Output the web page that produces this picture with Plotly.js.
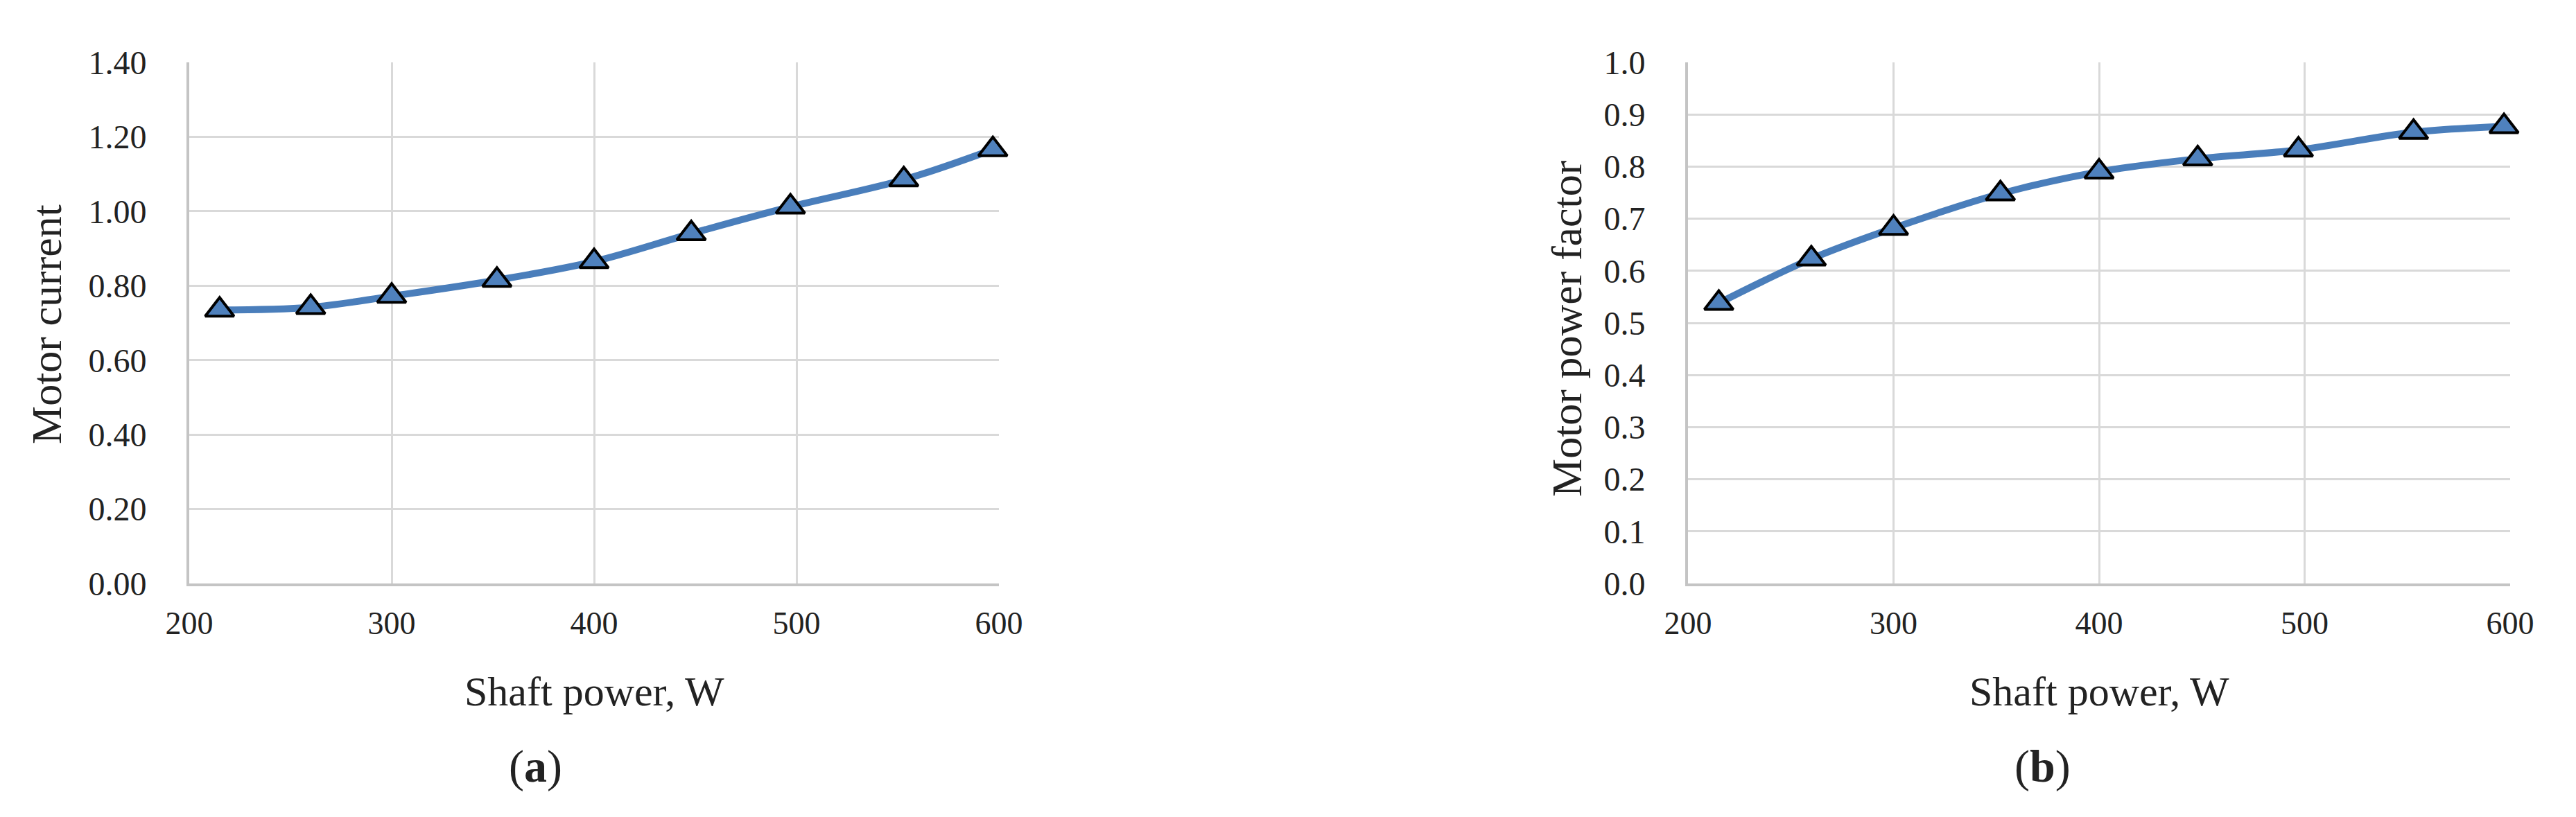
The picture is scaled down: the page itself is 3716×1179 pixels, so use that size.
<!DOCTYPE html>
<html>
<head>
<meta charset="utf-8">
<script src="https://cdn.plot.ly/plotly-3.0.1.min.js"></script>
<style>
  html, body { margin: 0; padding: 0; background: #fff; }
  #chart { width: 3716px; height: 1179px; }
</style>
</head>
<body>
<div id="chart"></div>
<script>
// Shaft power (W), shared by both panels
const shaftPower = [215, 260, 300, 352, 400, 448, 497, 553, 597];

// (a) motor current
const motorCurrent = [0.735, 0.742, 0.772, 0.815, 0.865, 0.940, 1.012, 1.085, 1.166];

// (b) motor power factor
const powerFactor = [0.538, 0.623, 0.682, 0.748, 0.790, 0.815, 0.832, 0.866, 0.877];

const xTicks = [200, 300, 400, 500, 600];
const currentTicks = [0, 0.2, 0.4, 0.6, 0.8, 1.0, 1.2, 1.4];
const factorTicks = [0, 0.1, 0.2, 0.3, 0.4, 0.5, 0.6, 0.7, 0.8, 0.9, 1.0];

const blue = '#4a7ebb';
const serif = 'Liberation Serif, Times New Roman, serif';

function series(y, xa, ya) {
  return {
    x: shaftPower,
    y: y,
    xaxis: xa,
    yaxis: ya,
    type: 'scatter',
    mode: 'lines+markers',
    line: { color: blue, width: 10, shape: 'spline', smoothing: 1 },
    marker: {
      symbol: 'triangle-up',
      size: 36,
      color: '#4f81bd',
      line: { color: '#000', width: 4 }
    },
    cliponaxis: false,
    hoverinfo: 'x+y'
  };
}

const xBase = {
  range: [200, 600],
  tickvals: xTicks,
  ticks: '',
  ticklabelstandoff: 14,
  showgrid: true,
  gridcolor: '#d9d9d9',
  gridwidth: 3,
  showline: true,
  linecolor: '#c4c4c4',
  linewidth: 4,
  zeroline: false,
  tickfont: { family: serif, size: 46, color: '#222' },
  fixedrange: true
};

const yBase = {
  ticks: '',
  ticklabelstandoff: 48,
  showgrid: true,
  gridcolor: '#d9d9d9',
  gridwidth: 3,
  showline: true,
  linecolor: '#c4c4c4',
  linewidth: 4,
  zeroline: false,
  tickfont: { family: serif, size: 48, color: '#222' },
  fixedrange: true
};

const yTop = 1 - 90 / 1179;
const yBottom = 1 - 842 / 1179;

function label(text, x, y, size, angle) {
  return {
    text: text, xref: 'paper', yref: 'paper', x: x / 3716, y: 1 - y / 1179,
    xanchor: 'center', yanchor: 'middle', textangle: angle || 0, showarrow: false,
    font: { family: serif, size: size, color: '#222' }
  };
}

const layout = {
  width: 3716,
  height: 1179,
  margin: { l: 0, r: 0, t: 0, b: 0 },
  paper_bgcolor: '#fff',
  plot_bgcolor: '#fff',
  showlegend: false,
  xaxis: Object.assign({}, xBase, { domain: [273 / 3716, 1441 / 3716], anchor: 'y' }),
  yaxis: Object.assign({}, yBase, {
    domain: [yBottom, yTop], anchor: 'x',
    range: [0, 1.4], tickvals: currentTicks, tickformat: '.2f'
  }),
  xaxis2: Object.assign({}, xBase, { domain: [2435 / 3716, 3621 / 3716], anchor: 'y2' }),
  yaxis2: Object.assign({}, yBase, {
    domain: [yBottom, yTop], anchor: 'x2',
    range: [0, 1.0], tickvals: factorTicks, tickformat: '.1f'
  }),
  annotations: [
    label('Motor current', 67, 468, 62, -90),
    label('Shaft power, W', 857, 998, 60),
    label('(<b>a</b>)', 772, 1106, 66),
    label('Motor power factor', 2260, 474, 62, -90),
    label('Shaft power, W', 3028, 998, 60),
    label('(<b>b</b>)', 2946, 1106, 66)
  ]
};

Plotly.newPlot('chart', [
  series(motorCurrent, 'x', 'y'),
  series(powerFactor, 'x2', 'y2')
], layout, { displayModeBar: false, staticPlot: true });
</script>
</body>
</html>
